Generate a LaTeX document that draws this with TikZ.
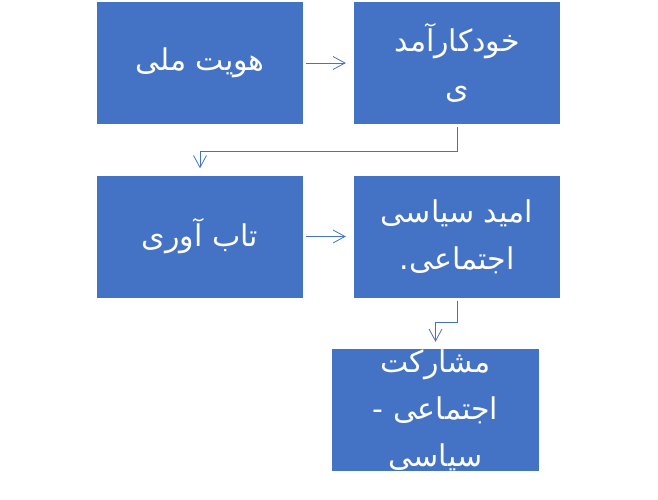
\documentclass[tikz,border=0pt]{standalone}
\usepackage{fontspec}
\usetikzlibrary{arrows.meta}
\TeXXeTstate=1
\newfontfamily\arabicfont[Script=Arabic]{DejaVu Sans}
\definecolor{boxblue}{HTML}{4472C4}
\tikzset{
  box/.style={fill=boxblue, draw=none, minimum width=206pt, minimum height=122pt,
    inner sep=0pt, text=white, align=center,
    font=\arabicfont\fontsize{30}{47}\selectfont},
  conn/.style={draw=boxblue, line width=0.9pt,
    -{Straight Barb[length=12pt,width=13pt,line width=0.8pt]}}
}
\begin{document}
\begin{tikzpicture}
\useasboundingbox (0pt,0pt) rectangle (658pt,499pt);
\node[box] (b1) at (200pt,436pt) {\beginR هویت ملی\endR};
\node[box] (b2) at (457pt,436pt) {\beginR خودکارآمد\endR\\\beginR ی\endR};
\node[box] (b3) at (200pt,262.5pt) {\beginR تاب آوری\endR};
\node[box] (b4) at (457pt,262.5pt) {\beginR امید سیاسی\endR\\\beginR اجتماعی.\endR};
\node[box, minimum width=207pt] (b5) at (435.5pt,89pt) {\beginR مشارکت\endR\\\beginR اجتماعی -\endR\\\beginR سیاسی\endR};
\draw[conn, shorten <=3pt, shorten >=8pt] (b1.east) -- (b2.west);
\draw[conn, shorten <=3pt, shorten >=8pt] (b3.east) -- (b4.west);
\draw[conn, shorten <=3pt, shorten >=7pt] (b2.south) -- ++(0pt,-27pt) -| (b3.north);
\draw[conn, shorten <=3pt, shorten >=7pt] (b4.south) -- ++(0pt,-25pt) -| (b5.north);
\end{tikzpicture}
\end{document}
